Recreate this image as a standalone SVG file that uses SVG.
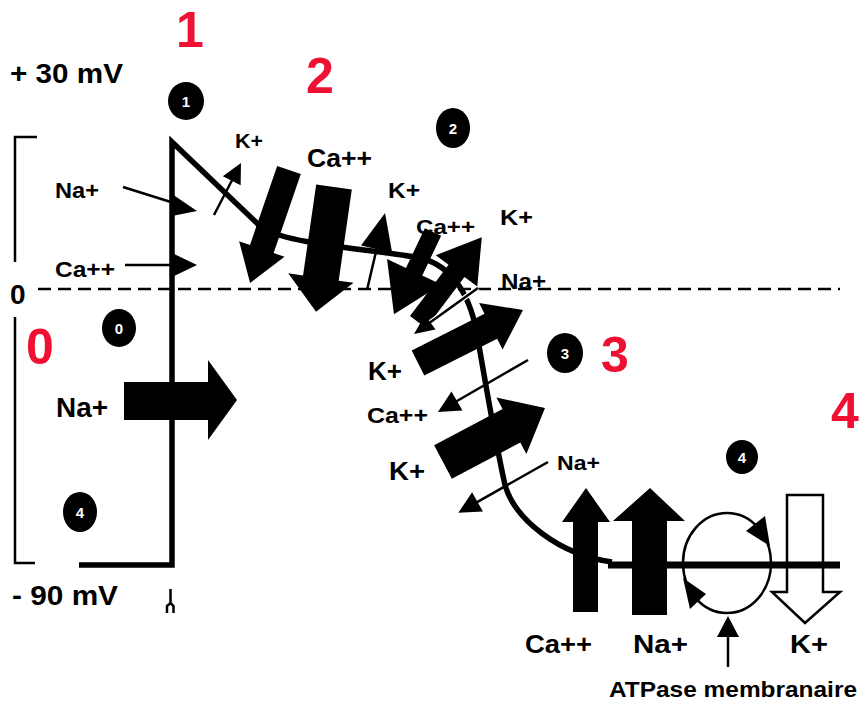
<svg xmlns="http://www.w3.org/2000/svg" width="861" height="704" viewBox="0 0 861 704">
<style>
text{font-family:"Liberation Sans",Arial,sans-serif;font-weight:bold;fill:#000}
.red{fill:#ee1133;font-size:50px}
.num{fill:#fff;font-size:15px;text-anchor:middle}
.blk{fill:#000;stroke:none}
.thin{stroke:#000;stroke-width:2.5;fill:none}
.curve{stroke:#000;stroke-width:5.5;fill:none;stroke-linejoin:miter}
</style>
<rect width="861" height="704" fill="#fff"/>

<!-- axis / bracket -->
<g id="axis">
  <path class="thin" d="M37,137 H15 V262 M15,317 V563 H35"/>
  <path d="M38,289 H840" stroke="#000" stroke-width="2.5" stroke-dasharray="13 7" fill="none"/>
  <text x="10" y="83" font-size="27" textLength="113" lengthAdjust="spacingAndGlyphs">+ 30 mV</text>
  <text x="12" y="605" font-size="27" textLength="106" lengthAdjust="spacingAndGlyphs">- 90 mV</text>
  <text x="10" y="304" font-size="28">0</text>
  <path d="M170.5,589 V603 M170.5,603 L167,606 V613 M170.5,603 L173.5,606 V613" stroke="#000" stroke-width="2.5" fill="none"/>
</g>

<!-- action potential curve -->
<g id="curve">
  <path class="curve" d="M79,565 H172 V142 L262,228 C290,245 380,250 420,258 C455,266 472,300 478,340 C485,380 495,440 505,485 C515,520 560,555 612,562"/>
</g>

<!-- phase numbers -->
<g id="phases">
  <text class="red" x="190" y="47" text-anchor="middle">1</text>
  <text class="red" x="320" y="93" text-anchor="middle">2</text>
  <text class="red" x="615" y="372" text-anchor="middle">3</text>
  <text class="red" x="40" y="364" text-anchor="middle">0</text>
  <text class="red" x="831" y="428">4</text>
</g>

<!-- circled markers -->
<g id="markers">
  <ellipse cx="186" cy="101" rx="18" ry="19"/><text class="num" x="186" y="107">1</text>
  <ellipse cx="453" cy="128" rx="17" ry="20"/><text class="num" x="453" y="134">2</text>
  <ellipse cx="565" cy="353" rx="18" ry="20"/><text class="num" x="565" y="359">3</text>
  <ellipse cx="742" cy="457" rx="16" ry="17"/><text class="num" x="742" y="463">4</text>
  <ellipse cx="119" cy="328" rx="17" ry="19"/><text class="num" x="119" y="334">0</text>
  <ellipse cx="80" cy="512" rx="17" ry="20"/><text class="num" x="80" y="518">4</text>
</g>

<!-- ion flux connectors -->
<g id="connectors">
  <!-- phase 0 -->
  <polygon class="blk" points="124,382 208,382 208,360 237,400 208,440 208,420 124,420"/>
  <!-- phase 1 -->
  <line class="thin" x1="123" y1="187" x2="174" y2="203"/>
  <polygon class="blk" points="172,194 197,211 172,216"/>
  <line class="thin" x1="125" y1="265" x2="174" y2="265"/>
  <polygon class="blk" points="172,253 197,265 172,277"/>
  <g transform="translate(214,215) rotate(-62.6)">
    <line class="thin" x1="0" y1="0" x2="40" y2="0"/>
    <polygon class="blk" points="38.6,-10 58.6,0 38.6,10"/>
  </g>
  <!-- phase 2 -->
  <polygon class="blk" transform="translate(289,170) rotate(109)" points="0,-12.5 83.5,-12.5 83.5,-24 119.5,0 83.5,24 83.5,12.5 0,12.5"/>
  <polygon class="blk" transform="translate(334,187) rotate(98.2)" points="0,-18 92,-18 92,-33 126,0 92,33 92,18 0,18"/>
  <g transform="translate(367,290) rotate(-76.8)">
    <line class="thin" x1="0" y1="0" x2="44" y2="0"/>
    <polygon class="blk" points="42,-16 79,0 42,16"/>
  </g>
  <polygon class="blk" transform="translate(433,232) rotate(115.4)" points="0,-9 44,-9 44,-30 91,0 44,30 44,9 0,9"/>
  <polygon class="blk" transform="translate(418,322) rotate(-53)" points="0,-10 64,-10 64,-26 106,0 64,26 64,10 0,10"/>
  <g transform="translate(478,288) rotate(144.3)">
    <line x1="0" y1="0" x2="60" y2="0" stroke="#fff" stroke-width="5"/>
    <line class="thin" x1="0" y1="0" x2="60" y2="0"/>
    <polygon class="blk" points="58.8,-9 78.8,0 58.8,9"/>
  </g>
  <!-- phase 3 -->
  <polygon class="blk" transform="translate(418,363) rotate(-26.8)" points="0,-14 81.6,-14 81.6,-26 117.6,0 81.6,26 81.6,14 0,14"/>
  <g transform="translate(528,360) rotate(150)">
    <line class="thin" x1="0" y1="0" x2="84" y2="0"/>
    <polygon class="blk" points="82,-11 104,0 82,11"/>
  </g>
  <polygon class="blk" transform="translate(443,462) rotate(-27.9)" points="0,-19 77.4,-19 77.4,-32 115.4,0 77.4,32 77.4,19 0,19"/>
  <g transform="translate(548,462) rotate(150.5)">
    <line class="thin" x1="0" y1="0" x2="83" y2="0"/>
    <polygon class="blk" points="81,-11 103,0 81,11"/>
  </g>
  <!-- phase 4 -->
  <polygon class="blk" points="573,612 573,522 562,522 586,488 610,522 598,522 598,612"/>
  <polygon class="blk" points="632,615 632,521 613,521 650,488 685,521 667,521 667,615"/>
  <polygon points="787,495 823,495 823,592 840,592 805,623 772,592 787,592" fill="#fff" stroke="#000" stroke-width="2.5"/>
  <path d="M608,565 H840" stroke="#000" stroke-width="7" fill="none"/>
  <ellipse cx="727" cy="563" rx="44" ry="50" fill="none" stroke="#000" stroke-width="2.5"/>
  <polygon class="blk" points="746,531 765,516 770,546"/>
  <polygon class="blk" points="683,578 706,594 690,609"/>
  <line class="thin" x1="728" y1="667" x2="728" y2="635"/>
  <polygon class="blk" points="717,637 728,616 739,637"/>
</g>

<!-- ion labels -->
<g id="labels">
  <text x="55" y="198" font-size="22" textLength="44" lengthAdjust="spacingAndGlyphs">Na+</text>
  <text x="55" y="277" font-size="22" textLength="60" lengthAdjust="spacingAndGlyphs">Ca++</text>
  <text x="235" y="148" font-size="21" textLength="28" lengthAdjust="spacingAndGlyphs">K+</text>
  <text x="307" y="167" font-size="25" textLength="65" lengthAdjust="spacingAndGlyphs">Ca++</text>
  <text x="388" y="198" font-size="22" textLength="32" lengthAdjust="spacingAndGlyphs">K+</text>
  <text x="416" y="234" font-size="21" textLength="59" lengthAdjust="spacingAndGlyphs">Ca++</text>
  <text x="500" y="225" font-size="22" textLength="33" lengthAdjust="spacingAndGlyphs">K+</text>
  <text x="501" y="289" font-size="22" textLength="45" lengthAdjust="spacingAndGlyphs">Na+</text>
  <text x="56" y="417" font-size="27" textLength="52" lengthAdjust="spacingAndGlyphs">Na+</text>
  <text x="368" y="380" font-size="26" textLength="34" lengthAdjust="spacingAndGlyphs">K+</text>
  <text x="367" y="423" font-size="22" textLength="61" lengthAdjust="spacingAndGlyphs">Ca++</text>
  <text x="389" y="480" font-size="26" textLength="36" lengthAdjust="spacingAndGlyphs">K+</text>
  <text x="557" y="470" font-size="21" textLength="43" lengthAdjust="spacingAndGlyphs">Na+</text>
  <text x="525" y="653" font-size="25" textLength="67" lengthAdjust="spacingAndGlyphs">Ca++</text>
  <text x="633" y="653" font-size="25" textLength="55" lengthAdjust="spacingAndGlyphs">Na+</text>
  <text x="790" y="653" font-size="25" textLength="38" lengthAdjust="spacingAndGlyphs">K+</text>
  <text x="609" y="697" font-size="22" textLength="248" lengthAdjust="spacingAndGlyphs">ATPase membranaire</text>
</g>
</svg>
